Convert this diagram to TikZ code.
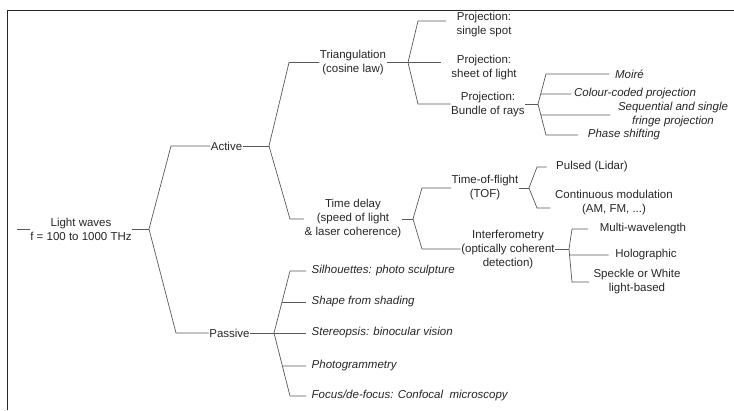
\documentclass[tikz,border=0pt]{standalone}
\usepackage{fontspec}
\setmainfont{Liberation Sans}
\usetikzlibrary{calc}
\begin{document}
\begin{tikzpicture}[x=1pt,y=-1pt,
  lbl/.style={inner sep=0.5pt,align=center,text=black!85,font=\fontsize{11.5}{14}\selectfont},
  ilbl/.style={lbl,font=\fontsize{11.5}{14}\selectfont\itshape},
  llbl/.style={ilbl,anchor=west,align=left},
  conn/.style={draw=black!65,line width=0.7pt},
  frame/.style={draw=black!85,line width=1pt}]
\useasboundingbox (0,0) rectangle (734,410);
% frame
\coordinate (frTR) at (734,10);
\coordinate (frTL) at (7,10);
\coordinate (frBL) at (7,410);
\draw[frame] (frTR) -- (frTL) -- (frBL);

% nodes
\node[lbl] (root) at (81,229) {Light waves\\f = 100 to 1000 THz};
\node[lbl] (active) at (226.5,146) {Active};
\node[lbl] (passive) at (229.5,333) {Passive};
\node[lbl] (tri) at (353,62.5) {Triangulation\\(cosine law)};
\node[lbl] (tdelay) at (353,219) {Time delay\\(speed of light\\\& laser coherence)};
\node[lbl] (p1) at (484,25) {Projection:\\single spot};
\node[lbl] (p2) at (484,68) {Projection:\\sheet of light};
\node[lbl] (p3) at (488,105) {Projection:\\Bundle of rays};
\node[ilbl] (moire) at (629.5,74) {Moiré};
\node[ilbl] (colour) at (635,94) {Colour-coded projection};
\node[ilbl] (seq) at (673,115) {Sequential and single\\fringe projection};
\node[ilbl] (phase) at (624,135) {Phase shifting};
\node[lbl] (tof) at (485,188) {Time-of-flight\\(TOF)};
\node[lbl] (interf) at (508,250) {Interferometry\\(optically coherent\\detection)};
\node[lbl] (pulsed) at (592,167) {Pulsed (Lidar)};
\node[lbl] (cont) at (614,203) {Continuous modulation\\(AM, FM, ...)};
\node[lbl] (multi) at (643,229) {Multi-wavelength};
\node[lbl] (holo) at (646,255) {Holographic};
\node[lbl] (speckle) at (637,282) {Speckle or White\\light-based};
\node[llbl] (sil) at (311,271) {Silhouettes: photo sculpture};
\node[llbl] (shape) at (311,302) {Shape from shading};
\node[llbl] (stereo) at (311,333) {Stereopsis: binocular vision};
\node[llbl] (photo) at (311,366) {Photogrammetry};
\node[llbl] (focus) at (311,396) {Focus/de-focus: Confocal\ \ microscopy};

% fork and corner coordinates
\coordinate (rootin) at (17,229);
\coordinate (f0) at (149,229);
\coordinate (cA) at (171,146);
\coordinate (cPa) at (176,333);
\coordinate (fA) at (269,146);
\coordinate (fP) at (274,333);
\coordinate (cT) at (289,62.5);
\coordinate (cD) at (290,219);
\coordinate (fT) at (408,62.5);
\coordinate (fD) at (413,219);
\coordinate (cP1) at (418,21);
\coordinate (cP3) at (418,104);
\coordinate (fB) at (538,104);
\coordinate (cMo) at (546,74);
\coordinate (cPh) at (546,135);
\coordinate (cTOF) at (422,188);
\coordinate (cI) at (422,249);
\coordinate (fTOF) at (529,188);
\coordinate (fI) at (569,249);
\coordinate (cPu) at (537,167);
\coordinate (cCo) at (537,208);
\coordinate (cMu) at (572,229);
\coordinate (cSp) at (572,282);
\coordinate (cSi) at (290,271);
\coordinate (cFo) at (290,396);

% connectors
\draw[conn] (rootin) -- (root.west |- rootin);
\draw[conn] (root.east |- f0) -- (f0);
\draw[conn] (f0) -- (cA) -- (active.west);
\draw[conn] (active.east) -- (fA);
\draw[conn] (f0) -- (cPa) -- (passive.west);
\draw[conn] (passive.east) -- (fP);

\draw[conn] (fA) -- (cT) -- (tri.west |- cT);
\draw[conn] (tri.east |- fT) -- (fT);
\draw[conn] (fA) -- (cD) -- (tdelay.west |- cD);
\draw[conn] (tdelay.east |- fD) -- (fD);

\draw[conn] (fT) -- (cP1) -- ([xshift=-10pt]p1.west |- cP1);
\draw[conn] (fT) -- ([xshift=-10pt]p2.west |- fT);
\draw[conn] (fT) -- (cP3) -- (p3.west |- cP3);
\draw[conn] (p3.east |- fB) -- (fB);

\draw[conn] (fB) -- (cMo) -- ([xshift=-5pt]moire.west |- cMo);
\draw[conn] ($(fB)!0.333!(cMo)$) -- ([xshift=-2pt]colour.west);
\draw[conn] ($(fB)!0.355!(cPh)$) -- ([xshift=-7pt]seq.west);
\draw[conn] (fB) -- (cPh) -- ([xshift=-9pt]phase.west |- cPh);

\draw[conn] (fD) -- (cTOF) -- (tof.west |- cTOF);
\draw[conn] (tof.east |- fTOF) -- (fTOF);
\draw[conn] (fD) -- (cI) -- (interf.west |- cI);
\draw[conn] (interf.east |- fI) -- (fI);

\draw[conn] (fTOF) -- (cPu) -- ([xshift=-9pt]pulsed.west |- cPu);
\draw[conn] (fTOF) -- (cCo) -- ([xshift=-4pt]cont.west |- cCo);

\draw[conn] (fI) -- (cMu) -- ([xshift=-11pt]multi.west |- cMu);
\draw[conn] ($(fI)!0.18!(cSp)$) -- ([xshift=-6pt]holo.west);
\draw[conn] (fI) -- (cSp) -- ([xshift=-4pt]speckle.west |- cSp);

\draw[conn] (fP) -- (cSi) -- ([xshift=-5pt]sil.west);
\draw[conn] ($(fP)!0.5!(cSi)$) -- ([xshift=-5pt]shape.west);
\draw[conn] (fP) -- ([xshift=-5pt]stereo.west);
\draw[conn] ($(fP)!0.524!(cFo)$) -- ([xshift=-5pt]photo.west);
\draw[conn] (fP) -- (cFo) -- ([xshift=-5pt]focus.west);
\end{tikzpicture}
\end{document}
